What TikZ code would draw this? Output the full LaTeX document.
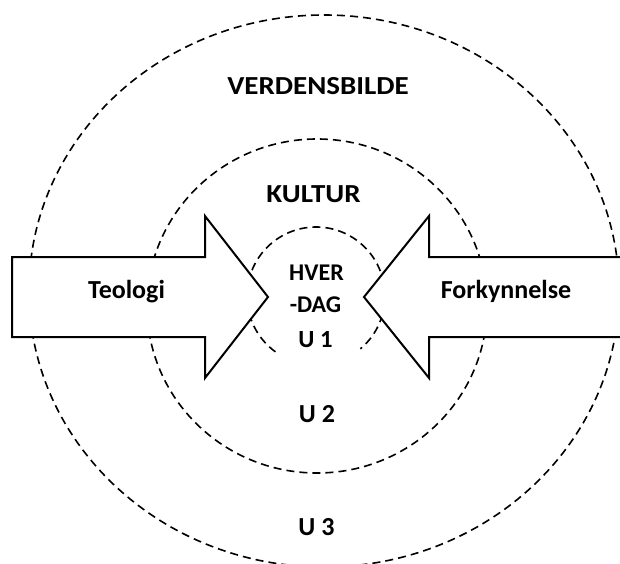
\documentclass[tikz,border=0pt]{standalone}
\usepackage{fontspec}
\usepackage{graphicx}
\setmainfont{Carlito}
\newcommand{\wide}[1]{\scalebox{1.115}[1]{#1}}
\begin{document}
\begin{tikzpicture}[x=0.75pt,y=-0.75pt,
  ring/.style={draw=black,line width=1.2pt,dash pattern=on 6pt off 3.8pt},
  bigarrow/.style={draw=black,fill=white,line width=1.5pt,line join=miter},
  lbl/.style={font=\bfseries\fontsize{19.5}{22}\selectfont,anchor=base,inner sep=0pt},
  smalllbl/.style={lbl,font=\bfseries\fontsize{18}{21}\selectfont}]
\useasboundingbox (0,0) rectangle (620,563);
% rings
\draw[ring] (324,291) ellipse [x radius=295, y radius=276];
\draw[ring] (317,306) ellipse [x radius=170, y radius=167];
\draw[ring] (316,296) ++(126:69) arc[start angle=126, end angle=410, radius=69];
% arrows
\draw[bigarrow] (12,257) -- (205,257) -- (205,216) -- (268,297) -- (205,378) -- (205,337) -- (12,337) -- cycle;
\draw[bigarrow] (626,257) -- (429,257) -- (429,216) -- (364,297) -- (429,378) -- (429,337) -- (626,337);
% labels
\node[lbl] (verd) at (318,95) {\wide{VERDENSBILDE}};
\node[lbl] (kult) at (313.5,202) {\wide{KULTUR}};
\node[smalllbl] (hver) at (316.5,280) {HVER};
\node[smalllbl] (dag) at (315.5,312) {-DAG};
\node[lbl,font=\bfseries\fontsize{18.5}{21}\selectfont] (u1) at (315.5,347) {U 1};
\node[lbl] (u2) at (317,422) {U 2};
\node[lbl] (u3) at (316.5,535) {U 3};
\node[lbl] (teo) at (126.5,298) {Teologi};
\node[lbl] (fork) at (506,298) {Forkynnelse};
\end{tikzpicture}
\end{document}
